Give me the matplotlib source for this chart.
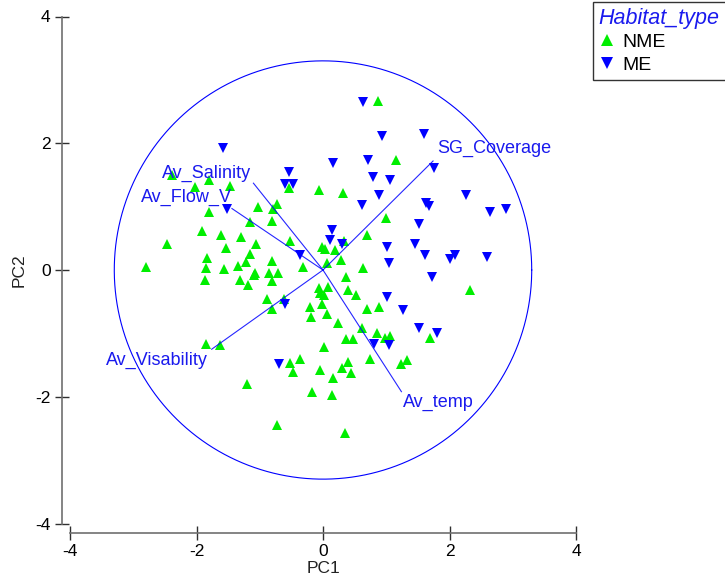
import matplotlib
matplotlib.use("Agg")
import matplotlib.pyplot as plt
import numpy as np
from matplotlib.lines import Line2D

plt.rcParams['font.family'] = ['Liberation Sans', 'DejaVu Sans']
plt.rcParams['axes.unicode_minus'] = False

# ---- data ----
nme_x = [-2.39, -1.80, -1.47, -2.02, -0.53, -0.06, -1.81, -1.02, -0.72, -0.79,
         -1.15, -0.80, -1.91, -1.62, -1.29, -1.06, -0.52, -1.53, -2.46, -0.02,
         -1.83, -1.15, -0.80, -2.80, -1.85, -1.56, -1.34, -1.21, -1.08, -0.85,
         -0.71, -0.32, -1.87, -1.32, -1.18, -1.09, -0.80, -0.89, -0.81, -0.61,
         -0.21, -0.19, -0.02, -0.07, 0.08, -0.05, 0.01, 0.06, -1.85, -1.63,
         -0.52, -0.37, -0.48, 0.02, -0.04, -1.20, -0.18, -0.73, 0.87, 1.15,
         0.31, 1.00, 0.69, 0.33, 0.19, 0.03, 0.28, 0.06, 0.64, 0.37,
         2.32, 0.40, 0.52, 0.69, 0.89, 0.24, 0.61, 1.69, 0.85, 1.06,
         0.98, 0.37, 0.48, 0.74, 1.24, 1.33, 0.40, 0.30, 0.45, 0.16,
         0.15, 0.35]
nme_y = [1.50, 1.42, 1.32, 1.31, 1.29, 1.26, 0.92, 1.00, 1.04, 0.97,
         0.76, 0.77, 0.61, 0.55, 0.52, 0.41, 0.46, 0.34, 0.41, 0.37,
         0.19, 0.26, 0.14, 0.04, 0.03, 0.02, 0.06, 0.12, -0.05, -0.04,
         -0.05, 0.05, -0.16, -0.16, -0.24, -0.08, -0.18, -0.45, -0.61, -0.45,
         -0.58, -0.74, -0.53, -0.29, -0.27, -0.37, -0.40, -0.69, -1.17, -1.19,
         -1.47, -1.41, -1.61, -1.22, -1.58, -1.80, -1.93, -2.45, 2.66, 1.74,
         1.22, 0.82, 0.56, 0.45, 0.32, 0.33, 0.16, 0.11, 0.03, -0.11,
         -0.32, -0.32, -0.40, -0.61, -0.58, -0.84, -0.92, -1.08, -1.00, -1.04,
         -1.08, -1.09, -1.09, -1.40, -1.49, -1.42, -1.45, -1.55, -1.62, -1.70,
         -1.98, -2.57]

me_x = [-1.58, -0.53, -0.60, -0.48, -1.51, -0.36, -0.60, -0.69, 0.64, 0.94,
        1.60, 0.16, 0.71, 1.75, 0.79, 1.06, 0.89, 0.61, 1.63, 1.67,
        2.26, 2.64, 2.89, 1.52, 0.15, 0.11, 0.30, 1.01, 1.45, 1.61,
        2.01, 2.09, 2.59, 1.04, 1.72, 1.01, 1.26, 1.51, 1.81, 0.80,
        1.04]
me_y = [1.92, 1.55, 1.36, 1.36, 0.96, 0.24, -0.53, -1.48, 2.65, 2.12,
        2.15, 1.69, 1.74, 1.61, 1.46, 1.42, 1.18, 1.03, 1.05, 1.01,
        1.19, 0.92, 0.97, 0.72, 0.63, 0.47, 0.41, 0.37, 0.41, 0.24,
        0.18, 0.24, 0.21, 0.11, -0.11, -0.42, -0.63, -0.92, -1.00, -1.16,
        -1.19]

var_names = ["SG_Coverage", "Av_Salinity", "Av_Flow_V", "Av_Visability", "Av_temp"]
load_x = [1.74, -1.10, -1.44, -1.76, 1.24]
load_y = [1.72, 1.37, 0.97, -1.25, -1.92]
circle_r = 3.3

ticks = [-4, -2, 0, 2, 4]

# ---- styling ----
green = '#00ee00'
blue = '#0000ff'
txt_blue = '#1a1aee'
spine_c = '#707070'

fig = plt.figure(figsize=(7.25, 5.85), dpi=100)
ax = fig.add_axes([70/725, 1 - 523.5/585, 506/725, 507/585])
ax.set_xlim(-4, 4)
ax.set_ylim(-4, 4)

# circle
th = np.linspace(0, 2*np.pi, 400)
ax.plot(circle_r*np.cos(th), circle_r*np.sin(th), color=blue, lw=0.8, zorder=1)

# points
ax.plot(nme_x, nme_y, linestyle='none', marker='^', ms=7.4, color=green,
        markeredgewidth=0, zorder=3)
ax.plot(me_x, me_y, linestyle='none', marker='v', ms=7.4, color=blue,
        markeredgewidth=0, zorder=3)

# loading lines and labels
offsets = {"SG_Coverage": (3, 9, 'left'), "Av_Salinity": (-2, 7, 'right'),
           "Av_Flow_V": (0, 8, 'right'), "Av_Visability": (-3, -8, 'right'),
           "Av_temp": (1, -8, 'left')}
for name, lx, ly in zip(var_names, load_x, load_y):
    ax.plot([0, lx], [0, ly], color=blue, lw=0.8, zorder=4, alpha=0.85)
    dx, dy, ha = offsets[name]
    ax.annotate(name, (lx, ly), xytext=(dx, dy), textcoords='offset points',
                ha=ha, va='center', color=txt_blue, fontsize=13, zorder=5)

# axes styling
for s in ['top', 'right']:
    ax.spines[s].set_visible(False)
ax.spines['left'].set_position(('outward', 6))
ax.spines['bottom'].set_position(('outward', 7))
ax.spines['left'].set_bounds(-4, 4)
ax.spines['bottom'].set_bounds(-4, 4)
for s in ['left', 'bottom']:
    ax.spines[s].set_color(spine_c)
    ax.spines[s].set_linewidth(1.2)
ax.set_xticks(ticks)
ax.set_yticks(ticks)
ax.tick_params(direction='inout', length=10, width=1.0, color='#303030',
               labelsize=12.5, pad=3)
ax.set_xlabel('PC1', fontsize=12.5, color='#222222', labelpad=1)
ax.set_ylabel('PC2', fontsize=12.5, color='#222222', labelpad=6)

# legend
handles = [Line2D([], [], linestyle='none', marker='^', ms=8, color=green, markeredgewidth=0),
           Line2D([], [], linestyle='none', marker='v', ms=8, color=blue, markeredgewidth=0)]
leg = fig.legend(handles, ['NME', 'ME'], loc='upper left',
                 bbox_to_anchor=(593/725, 1 - 2/585), bbox_transform=fig.transFigure,
                 frameon=True, fancybox=False, edgecolor='black', fontsize=14,
                 title='Habitat_type', handlelength=0.8, handletextpad=0.4,
                 borderpad=0.3, labelspacing=0.25, borderaxespad=0,
                 alignment='left')
leg.get_frame().set_linewidth(1.0)
t = leg.get_title()
t.set_color(txt_blue)
t.set_fontstyle('italic')
t.set_fontsize(15.5)

fig.savefig('out.png', dpi=100)
